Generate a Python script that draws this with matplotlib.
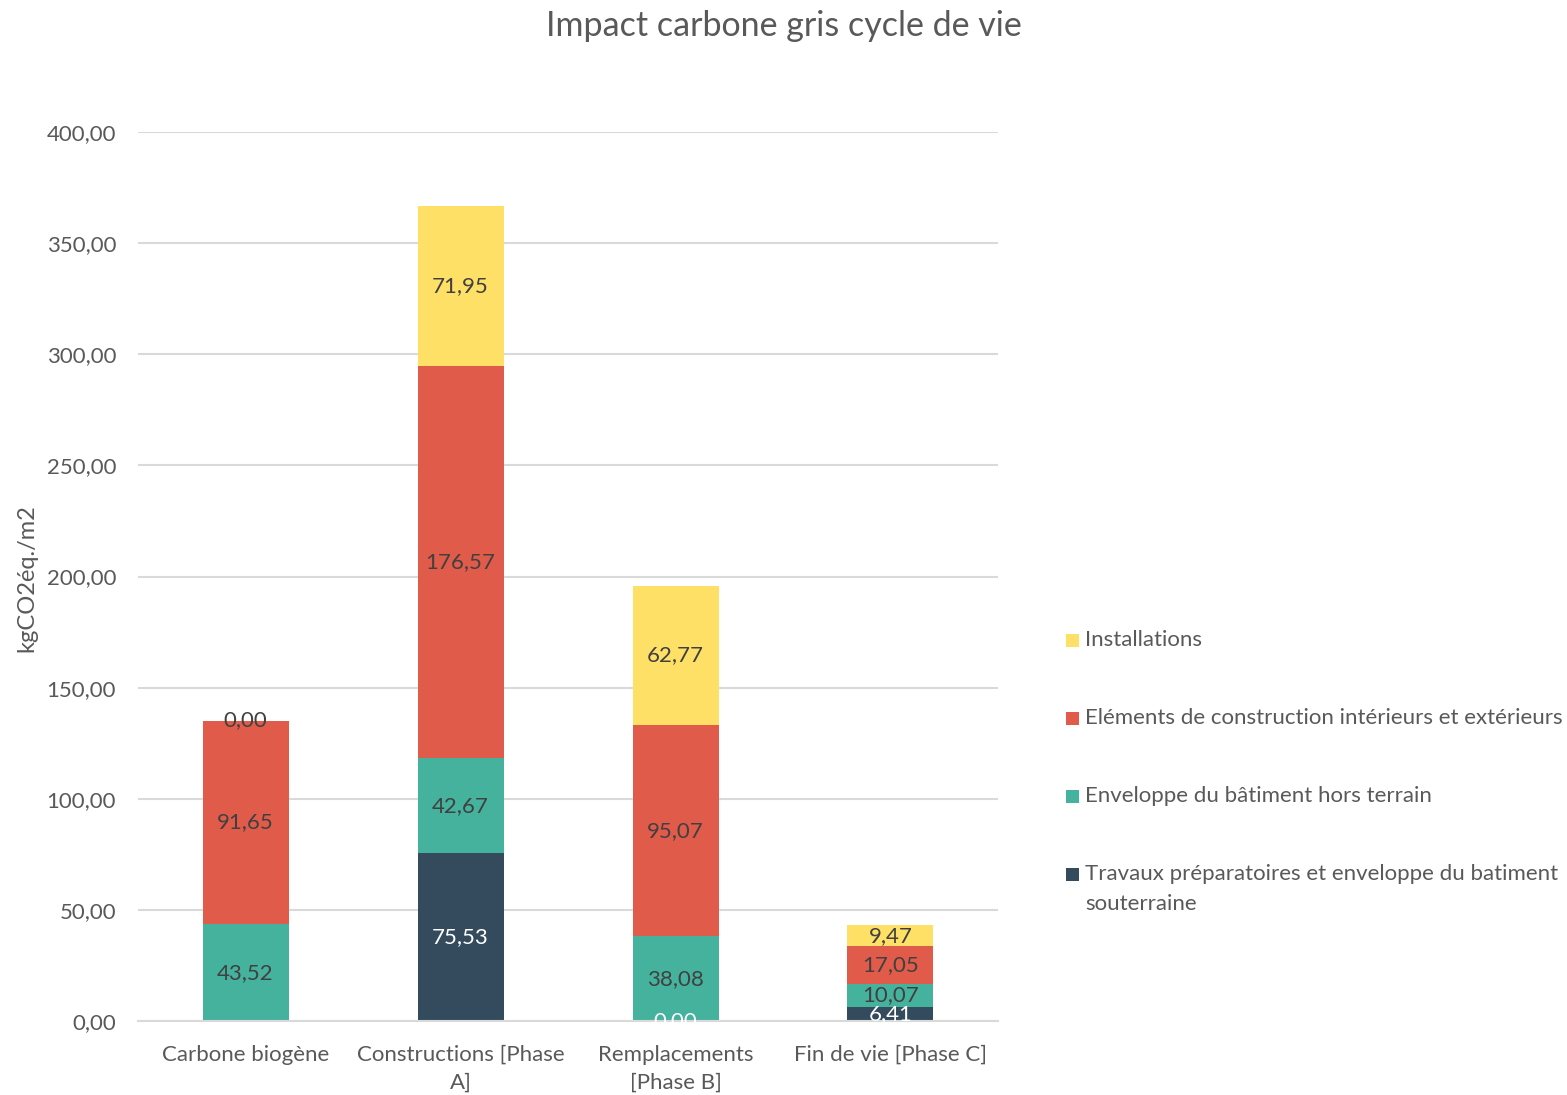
import numpy as np
import matplotlib
matplotlib.use("Agg")
import matplotlib.pyplot as plt
from matplotlib.patches import Rectangle

categories = ["Carbone biogène", "Constructions [Phase\nA]", "Remplacements\n[Phase B]", "Fin de vie [Phase C]"]
series_names = [
    "Travaux préparatoires et enveloppe du batiment\nsouterraine",
    "Enveloppe du bâtiment hors terrain",
    "Eléments de construction intérieurs et extérieurs",
    "Installations",
]
travaux = [np.nan, 75.53, 0.00, 6.41]
enveloppe = [43.52, 42.67, 38.08, 10.07]
elements = [91.65, 176.57, 95.07, 17.05]
installations = [0.00, 71.95, 62.77, 9.47]
yticks = [0, 50, 100, 150, 200, 250, 300, 350, 400]

colors = ["#334B5C", "#45B29D", "#E05B4A", "#FFE066"]
label_colors = ["white", "#404040", "#404040", "#404040"]
text_gray = "#595959"
fs = 16

plt.rcParams["font.family"] = ["Lato", "DejaVu Sans"]

fig = plt.figure(figsize=(15.67, 10.95), dpi=100)
ax = fig.add_axes([138 / 1567, 1 - 1021 / 1095, 860 / 1567, 889 / 1095])

x = np.arange(len(categories))
bottom = np.zeros(len(categories))
for vals, col, lcol in zip([travaux, enveloppe, elements, installations], colors, label_colors):
    v = np.array(vals, dtype=float)
    h = np.nan_to_num(v)
    bars = ax.bar(x, h, width=0.4, bottom=bottom, color=col, linewidth=0, zorder=2)
    labels = ["" if np.isnan(a) else f"{a:.2f}".replace(".", ",") for a in v]
    texts = ax.bar_label(bars, labels=labels, label_type="center", color=lcol, fontsize=fs, zorder=3)
    for t in texts:
        t.set_clip_on(True)
    bottom += h

ax.set_xlim(-0.5, len(categories) - 0.5)
ax.set_ylim(0, 400)
ax.set_yticks(yticks)
ax.set_yticklabels([f"{t:.2f}".replace(".", ",") for t in yticks])
ax.set_xticks(x)
ax.set_xticklabels(categories, linespacing=1.52)
ax.tick_params(axis="both", length=0, colors=text_gray, labelsize=fs)
ax.tick_params(axis="x", pad=17)
ax.tick_params(axis="y", pad=15.8)
ax.grid(axis="y", color="#D9D9D9", linewidth=1.5, zorder=0)
ax.set_axisbelow(True)
for s in ["top", "right", "left"]:
    ax.spines[s].set_visible(False)
ax.spines["bottom"].set_color("#D9D9D9")
ax.spines["bottom"].set_linewidth(1.5)

fig.text(27 / 1567, 1 - 578 / 1095, "kgCO2éq./m2", rotation=90, ha="center", va="center",
         color=text_gray, fontsize=17)
fig.text(0.5, 1 - 26 / 1095, "Impact carbone gris cycle de vie", ha="center", va="center",
         color=text_gray, fontsize=24.5)

# legend, drawn top to bottom from the last series to the first
legend_y = [640, 718, 796, 874]
for name, col, yy in zip(series_names[::-1], colors[::-1], legend_y):
    fig.patches.append(Rectangle((1066 / 1567, 1 - (yy + 7) / 1095), 13 / 1567, 13 / 1095,
                                 transform=fig.transFigure, facecolor=col, edgecolor="none"))
    if "\n" in name:
        first, second = name.split("\n")
        fig.text(1085 / 1567, 1 - yy / 1095, first, ha="left", va="center", color=text_gray, fontsize=fs)
        fig.text(1085 / 1567, 1 - (yy + 30) / 1095, second, ha="left", va="center", color=text_gray, fontsize=fs)
    else:
        fig.text(1085 / 1567, 1 - yy / 1095, name, ha="left", va="center", color=text_gray, fontsize=fs)

fig.savefig("out.png", dpi=100)
